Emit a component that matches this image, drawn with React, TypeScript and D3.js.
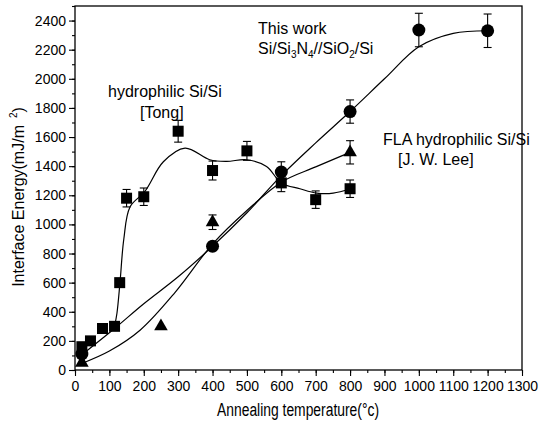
import React, { useEffect, useRef } from 'react';
import * as d3 from 'd3';

// measured points (temperature in C, energy in mJ/m2, error)
const tongX = [20, 45, 80, 115, 130, 150, 200, 300, 400, 500, 600, 700, 800];
const tongY = [160, 200, 285, 300, 600, 1180, 1190, 1640, 1370, 1505, 1285, 1170, 1245];
const tongErr = [0, 0, 0, 0, 0, 60, 60, 75, 65, 65, 60, 60, 60];

const workX = [20, 400, 600, 800, 1000, 1200];
const workY = [110, 850, 1360, 1775, 2335, 2330];
const workErr = [0, 30, 70, 80, 115, 115];

const leeX = [20, 250, 400, 800];
const leeY = [50, 300, 1015, 1495];
const leeErr = [0, 0, 50, 80];

// fitted curves
const tongFitX = [115, 122, 131, 142, 160, 203, 257, 320, 392, 441, 499, 557, 600, 654, 703, 751, 800];
const tongFitY = [300, 390, 605, 900, 1120, 1226, 1430, 1524, 1444, 1433, 1444, 1398, 1285, 1245, 1215, 1215, 1245];

const workFitX = [20, 115, 200, 300, 400, 500, 600, 700, 800, 900, 1000, 1100, 1200];
const workFitY = [105, 285, 455, 640, 850, 1080, 1335, 1560, 1775, 2000, 2220, 2312, 2330];

const leeFitX = [20, 100, 190, 290, 400, 500, 600, 700, 800];
const leeFitY = [45, 130, 275, 530, 865, 1095, 1290, 1395, 1495];

const xTicks = d3.range(0, 1301, 100);
const yTicks = d3.range(0, 2401, 200);

const FONT = "'Liberation Sans', Arial, sans-serif";

const App = () => {
  const chartRef = useRef(null);

  useEffect(() => {
    const svg = d3.select(chartRef.current);
    svg.selectAll('*').remove();

    const left = 75, right = 522, top = 6, bottom = 370;
    const x = d3.scaleLinear().domain([0, 1300]).range([left, right]);
    const y = d3.scaleLinear().domain([0, 2500]).range([bottom, top]);

    // frame
    svg.append('rect')
      .attr('x', left).attr('y', top)
      .attr('width', right - left).attr('height', bottom - top)
      .attr('fill', 'none').attr('stroke', '#000').attr('stroke-width', 1.3);

    // axes
    const xAxis = svg.append('g').attr('transform', `translate(0,${bottom})`);
    xAxis.call(d3.axisBottom(x).tickValues(d3.range(0, 1301, 50)).tickSize(3).tickFormat(() => ''));
    xAxis.call(g => g.select('.domain').remove());
    const xMajor = svg.append('g').attr('transform', `translate(0,${bottom})`)
      .call(d3.axisBottom(x).tickValues(xTicks).tickSize(6).tickPadding(5).tickFormat(d3.format('d')));
    xMajor.select('.domain').remove();
    xMajor.selectAll('text').attr('font-family', FONT).attr('font-size', 14).attr('fill', '#000');

    const yAxis = svg.append('g').attr('transform', `translate(${left},0)`);
    yAxis.call(d3.axisLeft(y).tickValues(d3.range(0, 2501, 100)).tickSize(3).tickFormat(() => ''));
    yAxis.call(g => g.select('.domain').remove());
    const yMajor = svg.append('g').attr('transform', `translate(${left},0)`)
      .call(d3.axisLeft(y).tickValues(yTicks).tickSize(6).tickPadding(3).tickFormat(d3.format('d')));
    yMajor.select('.domain').remove();
    yMajor.selectAll('text').attr('font-family', FONT).attr('font-size', 14).attr('fill', '#000');
    svg.selectAll('.tick line').attr('stroke', '#000').attr('stroke-width', 1.1);

    // fit curves
    const line = d3.line()
      .x(d => x(d[0]))
      .y(d => y(d[1]))
      .curve(d3.curveCatmullRom.alpha(0.5));
    const fits = [
      d3.zip(tongFitX, tongFitY),
      d3.zip(workFitX, workFitY),
      d3.zip(leeFitX, leeFitY),
    ];
    fits.forEach(pts => {
      svg.append('path').attr('d', line(pts))
        .attr('fill', 'none').attr('stroke', '#000').attr('stroke-width', 1.2);
    });

    // error bars
    const errBars = (xs, ys, es) => {
      const g = svg.append('g').attr('stroke', '#000').attr('stroke-width', 1.1);
      xs.forEach((xv, i) => {
        if (!es[i]) return;
        const cx = x(xv);
        const y1 = y(ys[i] + es[i]);
        const y2 = y(ys[i] - es[i]);
        g.append('line').attr('x1', cx).attr('x2', cx).attr('y1', y1).attr('y2', y2);
        g.append('line').attr('x1', cx - 4).attr('x2', cx + 4).attr('y1', y1).attr('y2', y1);
        g.append('line').attr('x1', cx - 4).attr('x2', cx + 4).attr('y1', y2).attr('y2', y2);
      });
    };
    errBars(tongX, tongY, tongErr);
    errBars(workX, workY, workErr);
    errBars(leeX, leeY, leeErr);

    // markers
    svg.append('g').selectAll('rect').data(d3.zip(tongX, tongY)).enter()
      .append('rect')
      .attr('x', d => x(d[0]) - 5.5).attr('y', d => y(d[1]) - 5.5)
      .attr('width', 11).attr('height', 11).attr('fill', '#000');

    svg.append('g').selectAll('circle').data(d3.zip(workX, workY)).enter()
      .append('circle')
      .attr('cx', d => x(d[0])).attr('cy', d => y(d[1])).attr('r', 6.5).attr('fill', '#000');

    const tri = d3.symbol().type(d3.symbolTriangle).size(80);
    svg.append('g').selectAll('path').data(d3.zip(leeX, leeY)).enter()
      .append('path')
      .attr('d', tri)
      .attr('transform', d => `translate(${x(d[0])},${y(d[1])})`)
      .attr('fill', '#000');

    // annotations
    const txt = (tx, ty, s) => svg.append('text')
      .attr('x', tx).attr('y', ty)
      .attr('font-family', FONT).attr('font-size', 16).attr('fill', '#000').text(s);

    txt(258, 34, 'This work');
    const t2 = svg.append('text').attr('x', 258).attr('y', 54)
      .attr('font-family', FONT).attr('font-size', 16).attr('fill', '#000');
    t2.append('tspan').text('Si/Si');
    t2.append('tspan').attr('font-size', 10).attr('dy', 4).text('3');
    t2.append('tspan').attr('dy', -4).text('N');
    t2.append('tspan').attr('font-size', 10).attr('dy', 4).text('4');
    t2.append('tspan').attr('dy', -4).text('//SiO');
    t2.append('tspan').attr('font-size', 10).attr('dy', 4).text('2');
    t2.append('tspan').attr('dy', -4).text('/Si');

    txt(108, 97, 'hydrophilic Si/Si');
    txt(140, 118, '[Tong]');
    txt(383, 145, 'FLA hydrophilic Si/Si');
    txt(398, 165, '[J. W. Lee]');

    // axis titles
    svg.append('text')
      .attr('x', 217).attr('y', 416)
      .attr('textLength', 162).attr('lengthAdjust', 'spacingAndGlyphs')
      .attr('font-family', FONT).attr('font-size', 18).attr('fill', '#000')
      .text('Annealing temperature(°c)');

    const yt = svg.append('text')
      .attr('transform', 'translate(24,197) rotate(-90)')
      .attr('text-anchor', 'middle')
      .attr('font-family', FONT).attr('font-size', 16).attr('fill', '#000');
    yt.append('tspan').text('Interface Energy(mJ/m');
    yt.append('tspan').attr('font-size', 10).attr('dy', -7).attr('dx', 7).text('2');
    yt.append('tspan').attr('dy', 7).text(')');
  }, []);

  return (
    <svg ref={chartRef} width={540} height={432}
      style={{ position: 'absolute', left: 0, top: 0, background: '#fff' }} />
  );
};

export default App;
